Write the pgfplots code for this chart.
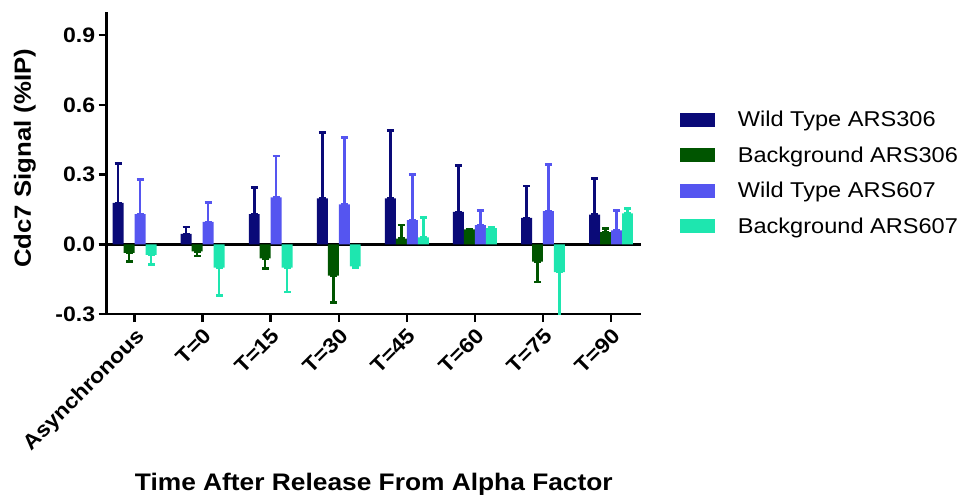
\documentclass[border=0pt]{standalone}
\usepackage{fontspec}
\setmainfont{Liberation Sans}[FakeStretch=1.1]
\usepackage{pgfplots}
\pgfplotsset{compat=1.18}
\usepackage{pgfplotstable}
\usetikzlibrary{calc}

\definecolor{wtA}{RGB}{10,10,120}
\definecolor{bgA}{RGB}{0,85,0}
\definecolor{wtB}{RGB}{85,85,240}
\definecolor{bgB}{RGB}{30,230,175}

% x = category, y = mean, ep/em = error up/down
\pgfplotstableread{
x y ep em
0 0.178 0.169 0
1 0.045 0.030 0
2 0.130 0.115 0
3 0.198 0.284 0
4 0.198 0.292 0
5 0.140 0.200 0
6 0.114 0.136 0
7 0.128 0.156 0
}\wtA
\pgfplotstableread{
x y ep em
0 -0.037 0 0.038
1 -0.030 0 0.020
2 -0.060 0 0.045
3 -0.135 0 0.115
4 0.025 0.058 0
5 0.064 0.003 0
6 -0.074 0 0.089
7 0.052 0.016 0
}\bgA
\pgfplotstableread{
x y ep em
0 0.130 0.150 0
1 0.097 0.083 0
2 0.202 0.178 0
3 0.172 0.288 0
4 0.104 0.196 0
5 0.083 0.063 0
6 0.143 0.200 0
7 0.060 0.086 0
}\wtB
\pgfplotstableread{
x y ep em
0 -0.045 0 0.042
1 -0.100 0 0.120
2 -0.100 0 0.105
3 -0.095 0 0.005
4 0.030 0.085 0
5 0.070 0.005 0
6 -0.120 0 0.200
7 0.133 0.022 0
}\bgB

\pgfplotsset{
  errstyle/.style={
    error bars/.cd, y dir=both, y explicit,
    error bar style={line width=2.5pt, color=#1},
    error mark options={rotate=90, mark size=3.5pt, line width=2.5pt, color=#1},
  },
}

\begin{document}
\begin{tikzpicture}
\begin{axis}[
  scale only axis,
  width=536pt, height=303pt,
  ybar=0pt, bar width=11pt,
  xmin=-0.41, xmax=7.44,
  ymin=-0.3, ymax=1.0,
  axis x line*=bottom, axis y line*=left,
  axis line style={line width=2.5pt},
  tick align=outside, major tick length=8pt,
  tick style={line width=2.5pt, black},
  xtick={0,...,7},
  xticklabels={Asynchronous,T=0,T=15,T=30,T=45,T=60,T=75,T=90},
  xticklabel style={rotate=45, anchor=north east},
  ytick={-0.3,0,0.3,0.6,0.9},
  extra y ticks={0}, extra y tick labels={},
  extra y tick style={grid=major, major grid style={black, line width=2.5pt}},
  /pgf/number format/assume math mode=true,
  yticklabel style={/pgf/number format/.cd, fixed, fixed zerofill, precision=1},
  tick label style={font=\bfseries\fontsize{21}{25}\selectfont},
  xlabel={Time After Release From Alpha Factor},
  ylabel={Cdc7 Signal (\%IP)},
  every axis x label/.style={at={(rel axis cs:0.5,-0.564)}, anchor=center,
    font=\bfseries\fontsize{24}{28}\selectfont},
  every axis y label/.style={at={(rel axis cs:-0.153,0.516)}, rotate=90, anchor=center,
    font=\bfseries\fontsize{23.5}{28}\selectfont},
  legend style={at={(1.067,0.685)}, anchor=north west, draw=none, fill=none,
    font=\fontsize{21.5}{26}\selectfont, row sep=14.5pt,
    /tikz/every odd column/.append style={column sep=21pt}},
  legend cell align=left,
  legend image code/.code={\fill[#1] (0pt,-7pt) rectangle (35pt,7pt);},
]
\addplot[fill=wtA, draw=none, errstyle=wtA] table[x=x, y=y, y error plus=ep, y error minus=em] {\wtA};
\addplot[fill=bgA, draw=none, errstyle=bgA] table[x=x, y=y, y error plus=ep, y error minus=em] {\bgA};
\addplot[fill=wtB, draw=none, errstyle=wtB] table[x=x, y=y, y error plus=ep, y error minus=em] {\wtB};
\addplot[fill=bgB, draw=none, errstyle=bgB] table[x=x, y=y, y error plus=ep, y error minus=em] {\bgB};
\legend{Wild Type ARS306, Background ARS306, Wild Type ARS607, Background ARS607}
\end{axis}
\path ($(current axis.south west)+(-107pt,-188pt)$) rectangle ($(current axis.north east)+(320pt,12pt)$);
\end{tikzpicture}
\end{document}
